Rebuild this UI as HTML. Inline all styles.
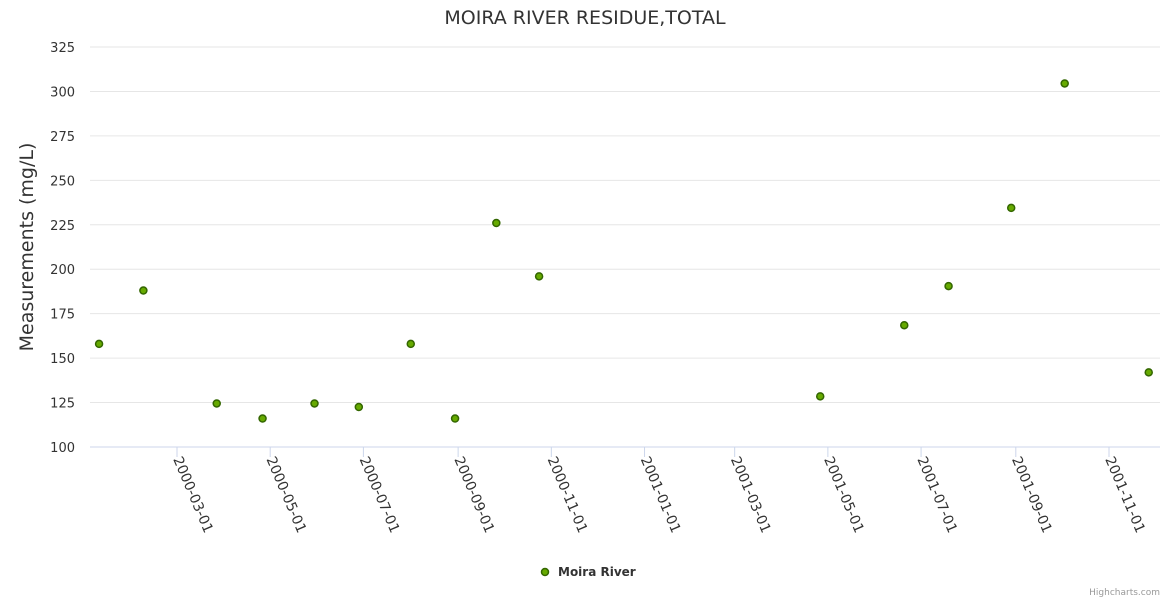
<!DOCTYPE html>
<html><head><meta charset="utf-8"><style>
body{margin:0;background:#fff;}
svg text{font-family:"DejaVu Sans","Liberation Sans",sans-serif;}
</style></head><body>
<svg id="c" width="1170" height="600" xmlns="http://www.w3.org/2000/svg">
<text x="585" y="24" text-anchor="middle" font-size="19" fill="#333">MOIRA RIVER RESIDUE,TOTAL</text>
<text transform="translate(33,247) rotate(-90)" text-anchor="middle" font-size="19" fill="#333">Measurements (mg/L)</text>
<g id="grid"></g><g id="xax"></g><g id="pts"></g>
<g>
<circle cx="545" cy="572" r="3.5" fill="#66aa00" stroke="#336600" stroke-width="1.5"/>
<text x="558" y="576" font-size="12" font-weight="bold" fill="#333">Moira River</text>
</g>
<text x="1160" y="595" text-anchor="end" font-size="9" fill="#999">Highcharts.com</text>
</svg>
<script>
const dates=["2000-01-10","2000-02-08","2000-03-27","2000-04-26","2000-05-30","2000-06-28","2000-08-01","2000-08-30","2000-09-26","2000-10-24","2001-04-26","2001-06-20","2001-07-19","2001-08-29","2001-10-03","2001-11-27"];
const values=[158,188,124.5,116,124.5,122.5,158,116,226,196,128.5,168.5,190.5,234.5,304.5,142];
const yTicks=[100,125,150,175,200,225,250,275,300,325];
const xTicks=["2000-03-01","2000-05-01","2000-07-01","2000-09-01","2000-11-01","2001-01-01","2001-03-01","2001-05-01","2001-07-01","2001-09-01","2001-11-01"];
const NS="http://www.w3.org/2000/svg";
const t0=Date.parse("2000-03-01"),pxDay=(1109-177)/610;
function X(d){return 177+(Date.parse(d)-t0)/864e5*pxDay;}
function Y(v){return 447-(v-100)*400/225;}
function mk(tag,a,p){const e=document.createElementNS(NS,tag);for(const k in a)e.setAttribute(k,a[k]);p.appendChild(e);return e;}
const g=document.getElementById('grid');
yTicks.forEach(v=>{
 const l=mk('line',{x1:90,x2:1160,y1:Y(v),y2:Y(v),stroke:v===100?'#ccd6eb':'#e6e6e6','stroke-width':1},g);
 
 
 const t=mk('text',{x:75,y:Y(v)+5,'text-anchor':'end','font-size':13,fill:'#333'},g);
 t.textContent=v;
 
 
});
const xa=document.getElementById('xax');
xTicks.forEach(d=>{
 const x=X(d);
 const l=mk('line',{x1:x,x2:x,y1:447,y2:457,stroke:'#ccd6eb'},xa);
 
 
 const t=mk('text',{transform:`translate(${x-4},${459}) rotate(67)`,'font-size':14,fill:'#333'},xa);
 t.textContent=d;
 
 
});
const p=document.getElementById('pts');
dates.forEach((d,i)=>{
 const c=mk('circle',{cx:X(d),cy:Y(values[i]),r:3.5,fill:'#66aa00',stroke:'#336600','stroke-width':1.5},p);
 
 
});
</script>
</body></html>
